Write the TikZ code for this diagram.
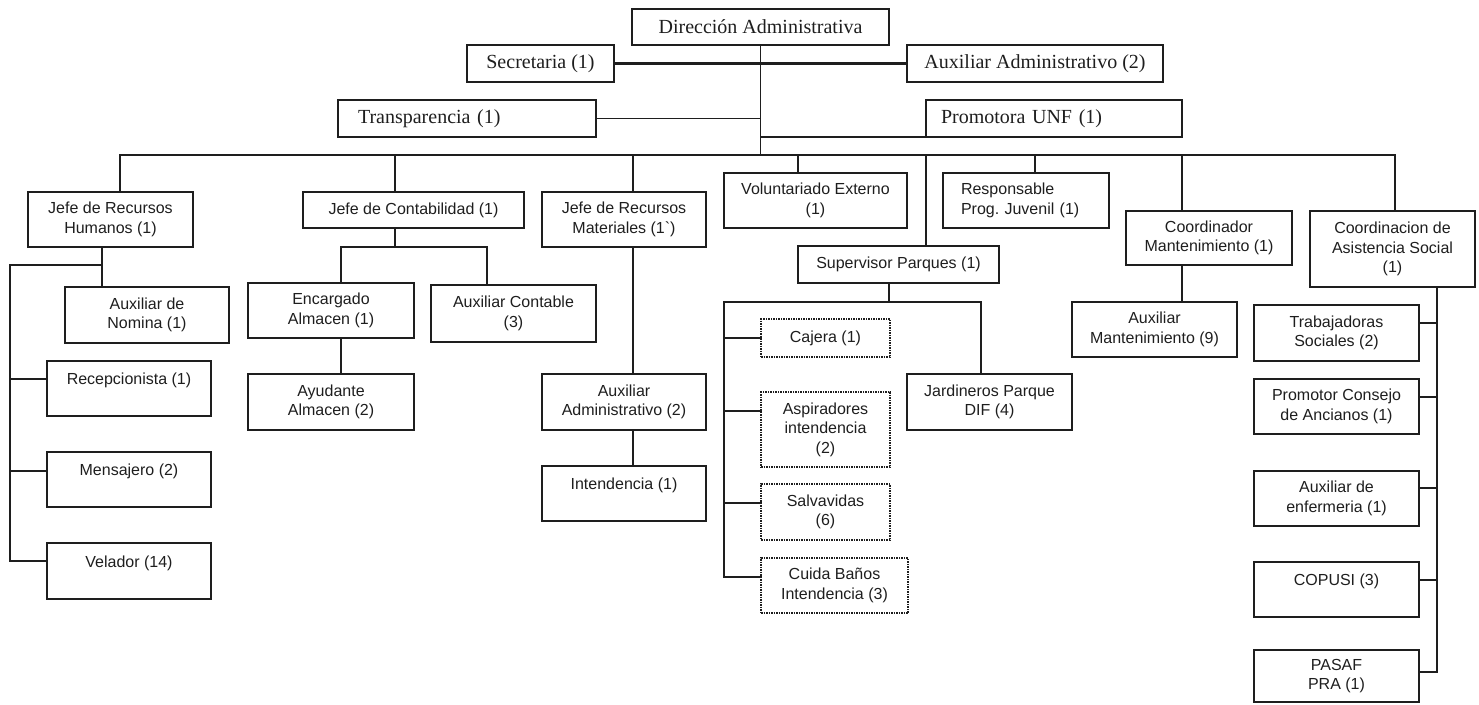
\documentclass[tikz,border=0pt]{standalone}
\usepackage{fontspec}
\setmainfont{Liberation Serif}
\newfontfamily\arialf{Liberation Sans}
\definecolor{ink}{RGB}{30,30,30}
\frenchspacing
\tikzset{
  bx/.style={draw=ink, line width=1.5pt, inner sep=0pt, outer sep=0pt, align=center, text=ink,
             font=\arialf\fontsize{16}{19.5}\selectfont},
  sx/.style={font=\fontsize{20}{24}\selectfont},
  dbx/.style={densely dotted},
  ln/.style={draw=ink, line width=1.5pt, line cap=rect},
  thk/.style={line width=2.2pt}
}
\newcommand{\obox}[7][]{\node[bx,#1,minimum width={(#5)-(#3)},minimum height={(#6)-(#4)}] (#2) at ({((#3)+(#5))/2},{((#4)+(#6))/2}) {#7};}
\begin{document}
\begin{tikzpicture}[x=1pt,y=-1pt]
\useasboundingbox (0,0) rectangle (1479,704);
% top
\obox[sx]{dir}{632}{9}{889}{45}{Dirección Administrativa}
\obox[sx]{sec}{467}{45}{614}{82}{Secretaria (1)}
\obox[sx]{aux}{907}{45}{1163}{82}{Auxiliar Administrativo (2)}
\obox[sx,text width=218pt,align=left]{trans}{338}{100}{596}{137}{Transparencia (1)}
\obox[sx,text width=226pt,align=left]{prom}{926}{100}{1182}{137}{Promotora UNF (1)}
% first row
\obox{rh}{28}{192}{193}{247}{Jefe de Recursos\\Humanos (1)}
\obox{cont}{303}{192}{524}{228}{Jefe de Contabilidad (1)}
\obox{mat}{542}{192}{706}{247}{Jefe de Recursos\\Materiales (1\textasciigrave)}
\obox{vol}{724}{173}{907}{228}{Voluntariado Externo\\(1)}
\obox{sup}{798}{246}{999}{283}{Supervisor Parques (1)}
\obox[text width=130pt,align=left]{resp}{943}{173}{1109}{228}{Responsable\\Prog. Juvenil (1)}
\obox{cm}{1126}{211}{1292}{265}{Coordinador\\Mantenimiento (1)}
\obox{cas}{1310}{211}{1475}{287}{Coordinacion de\\Asistencia Social\\(1)}
% RH
\obox{nom}{65}{287}{229}{343}{Auxiliar de\\Nomina (1)}
\obox{rec}{47}{361}{211}{416}{Recepcionista (1)\\\mbox{}}
\obox{men}{47}{452}{211}{507}{Mensajero (2)\\\mbox{}}
\obox{vel}{47}{543}{211}{599}{Velador (14)\\\mbox{}}
% Contabilidad
\obox{enc}{248}{283}{414}{338}{Encargado\\Almacen (1)}
\obox{auxc}{431}{285}{596}{342}{Auxiliar Contable\\(3)}
\obox{ayu}{248}{374}{414}{430}{Ayudante\\Almacen (2)}
% Materiales
\obox{aad}{542}{374}{706}{430}{Auxiliar\\Administrativo (2)}
\obox{int}{542}{466}{706}{521}{Intendencia (1)\\\mbox{}}
% Supervisor
\obox[dbx]{caj}{761}{319}{890}{357}{Cajera (1)}
\obox[dbx]{asp}{761}{392}{890}{467}{Aspiradores\\intendencia\\(2)}
\obox[dbx]{sal}{761}{484}{890}{540}{Salvavidas\\(6)}
\obox[dbx]{cui}{761}{558}{908}{613}{Cuida Baños\\Intendencia (3)}
\obox{jar}{907}{374}{1072}{430}{Jardineros Parque\\DIF (4)}
% Mantenimiento
\obox{am}{1072}{302}{1237}{357}{Auxiliar\\Mantenimiento (9)}
% Asistencia social
\obox{trab}{1254}{305}{1419}{361}{Trabajadoras\\Sociales (2)}
\obox{pcon}{1254}{379}{1419}{434}{Promotor Consejo\\de Ancianos (1)}
\obox{enf}{1254}{471}{1419}{526}{Auxiliar de\\enfermeria (1)}
\obox{cop}{1254}{562}{1419}{617}{COPUSI (3)\\\mbox{}}
\obox{pas}{1254}{650}{1419}{702}{PASAF\\PRA (1)}

% bus coordinates
\coordinate (b1) at (120,155);
\coordinate (b2) at (395,155);
\coordinate (b3) at (633,155);
\coordinate (b4) at (798,155);
\coordinate (b5) at (926,155);
\coordinate (b6) at (1035,155);
\coordinate (b7) at (1182,155);
\coordinate (b8) at (1395,155);

% top connectors
\draw[ln] (dir.south) -- (dir.south |- b1);
\draw[ln,thk] (sec.east) -- (aux.west);
\draw[ln] (trans.east) -- (trans.east -| dir.south);
\draw[ln] (prom.south west) -- (prom.south west -| dir.south);
\draw[ln] (b1) -- (b8);
\draw[ln] (b1) -- (b1 |- rh.north);
\draw[ln] (b2) -- (b2 |- cont.north);
\draw[ln] (b3) -- (b3 |- mat.north);
\draw[ln] (b4) -- (b4 |- vol.north);
\draw[ln] (b5) -- (b5 |- sup.north);
\draw[ln] (b6) -- (b6 |- resp.north);
\draw[ln] (b7) -- (b7 |- cm.north);
\draw[ln] (b8) -- (b8 |- cas.north);

% RH branch
\coordinate (rj) at (102,265);
\coordinate (rl) at (10,265);
\coordinate (r1) at (10,379);
\coordinate (r2) at (10,471);
\coordinate (r3) at (10,561);
\draw[ln] (rj |- rh.south) -- (rj |- nom.north);
\draw[ln,thk] (rj) -- (rl);
\draw[ln] (rl) -- (r3) -- (r3 -| vel.west);
\draw[ln,thk] (r1) -- (r1 -| rec.west);
\draw[ln] (r2) -- (r2 -| men.west);

% Contabilidad branch
\coordinate (cj) at (395,247);
\coordinate (cl) at (341,247);
\coordinate (cr) at (487,247);
\draw[ln] (cj |- cont.south) -- (cj);
\draw[ln] (cl |- enc.north) -- (cl) -- (cr) -- (cr |- auxc.north);
\draw[ln] (cl |- enc.south) -- (cl |- ayu.north);

% Materiales branch
\draw[ln] (b3 |- mat.south) -- (b3 |- aad.north);
\draw[ln] (b3 |- aad.south) -- (b3 |- int.north);

% Supervisor branch
\coordinate (sj) at (889,302);
\coordinate (sl) at (724,302);
\coordinate (sr) at (981,302);
\coordinate (s1) at (724,338);
\coordinate (s2) at (724,411);
\coordinate (s3) at (724,503);
\coordinate (s4) at (724,577);
\draw[ln] (sj |- sup.south) -- (sj);
\draw[ln] (jar.north -| sr) -- (sr) -- (sl) -- (s4) -- (s4 -| cui.west);
\draw[ln,thk] (s1) -- (s1 -| caj.west);
\draw[ln] (s2) -- (s2 -| asp.west);
\draw[ln] (s3) -- (s3 -| sal.west);

% Mantenimiento branch
\draw[ln] (b7 |- cm.south) -- (b7 |- am.north);

% Asistencia social branch
\coordinate (ax) at (1437,672);
\coordinate (a1) at (1437,323);
\coordinate (a2) at (1437,397);
\coordinate (a3) at (1437,488);
\coordinate (a4) at (1437,580);
\draw[ln] (ax |- cas.south) -- (ax) -- (ax -| pas.east);
\draw[ln] (a1) -- (a1 -| trab.east);
\draw[ln] (a2) -- (a2 -| pcon.east);
\draw[ln] (a3) -- (a3 -| enf.east);
\draw[ln,thk] (a4) -- (a4 -| cop.east);
\end{tikzpicture}
\end{document}
